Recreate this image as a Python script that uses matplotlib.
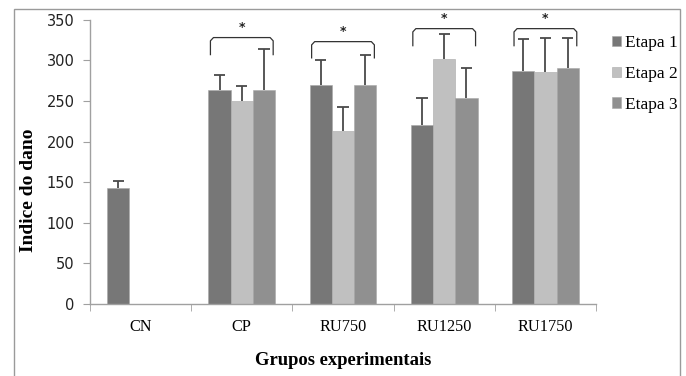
import numpy as np
import matplotlib
matplotlib.use("Agg")
import matplotlib.pyplot as plt
from matplotlib.patches import Rectangle

# data
grupos = ["CN", "CP", "RU750", "RU1250", "RU1750"]
etapas = ["Etapa 1", "Etapa 2", "Etapa 3"]
etapa1 = [143, 263, 270, 220, 287]
etapa2 = [np.nan, 250, 213, 302, 286]
etapa3 = [np.nan, 264, 270, 253, 291]
erro1 = [8, 19, 31, 33, 39]
erro2 = [np.nan, 18, 29, 30, 42]
erro3 = [np.nan, 50, 36, 37, 37]
cores = ["#777777", "#c0c0c0", "#909090"]
# significance brackets (group index, top value, leg bottom)
chaves = [(1, 328, 307), (2, 323, 303), (3, 339, 318), (4, 339, 318)]

fig = plt.figure(figsize=(6.86, 3.76), dpi=100)
ax = fig.add_axes([0.1312, 0.1915, 0.7376, 0.7561])

x = np.arange(len(grupos))
w = 0.22
cap = 0.055
series = [etapa1, etapa2, etapa3]
erros = [erro1, erro2, erro3]
for i, (vals, errs) in enumerate(zip(series, erros)):
    pos = x + (i - 1) * w
    vals = np.array(vals, dtype=float)
    errs = np.array(errs, dtype=float)
    ax.bar(pos, vals, width=w, color=cores[i], edgecolor="#a8a8a8",
           linewidth=0.4, label=etapas[i], zorder=2)
    # upper error bars only
    ax.vlines(pos, vals, vals + errs, color="#4a4a4a", lw=1.3, zorder=3)
    ax.hlines(vals + errs, pos - cap, pos + cap, color="#4a4a4a", lw=1.3,
              zorder=3)

# brackets with asterisks
for g, top, leg in chaves:
    x0 = g - 1.5 * w + 0.02
    x1 = g + 1.5 * w - 0.02
    r = 0.03
    ax.plot([x0, x0, x0 + r, x1 - r, x1, x1],
            [leg, top - 4, top, top, top - 4, leg],
            color="#333333", lw=0.9, zorder=3, clip_on=False)
    ax.text(g, top + 5, "*", ha="center", va="bottom", fontsize=9,
            fontweight="bold", color="#222222", clip_on=False)

ax.set_xlim(-0.5, len(grupos) - 0.5)
ax.set_ylim(0, 350)
ax.set_yticks(range(0, 351, 50))
ax.set_yticklabels([str(v) for v in range(0, 351, 50)],
                   family="DejaVu Sans", fontsize=10.5, color="#222222")
ax.set_xticks(x)
ax.set_xticklabels(grupos, family="Liberation Serif", fontsize=11.7)
ax.set_xticks(np.arange(-0.5, len(grupos)), minor=True)
ax.tick_params(axis="x", which="major", length=0, pad=11)
ax.tick_params(axis="x", which="minor", length=5, color="#a0a0a0")
ax.tick_params(axis="y", length=5, color="#a0a0a0", pad=6)

for s in ["top", "right"]:
    ax.spines[s].set_visible(False)
for s in ["left", "bottom"]:
    ax.spines[s].set_color("#a0a0a0")
    ax.spines[s].set_linewidth(1)

fig.text(29 / 686, 1 - 190 / 376, "Indice do dano", rotation=90,
         ha="center", va="center", family="Liberation Serif",
         fontweight="bold", fontsize=14)
ax.set_xlabel("Grupos experimentais", family="Liberation Serif",
              fontweight="bold", fontsize=13.4, labelpad=12)

leg = ax.legend(loc="upper left", bbox_to_anchor=(1.0, 1.0), frameon=False,
                prop={"family": "Liberation Serif", "size": 12.5},
                handlelength=0.55, handleheight=0.55, handletextpad=0.2,
                labelspacing=0.85)

# outer chart frame
fig.patches.append(Rectangle((14 / 686, -0.05), 666 / 686, 1 - 9 / 376 + 0.05,
                             transform=fig.transFigure, fill=False,
                             edgecolor="#9a9a9a", lw=1))

fig.savefig("out.png", dpi=100)
